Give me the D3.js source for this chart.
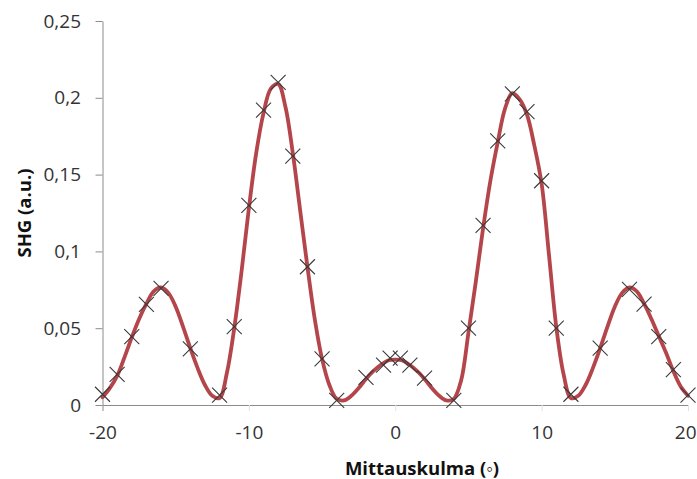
<!DOCTYPE html>
<html>
<head>
<meta charset="utf-8">
<script src="https://cdn.jsdelivr.net/npm/d3@7"></script>
<style>
  html, body { margin: 0; padding: 0; background: #fff; }
  svg { display: block; }
</style>
</head>
<body>
<script>
// Measured points (X markers)
const angles = [-20,-19,-18,-17,-16,-14,-12,-11,-10,-9,-8,-7,-6,-5,-4,-2,-0.8,-0.35,0.35,1,2,4,5,6,7,8,9,10,11,12,14,16,17,18,19,20];
const shg    = [0.007,0.020,0.0445,0.0655,0.076,0.0365,0.0065,0.051,0.130,0.192,0.210,0.162,0.090,0.030,0.003,0.018,0.026,0.0305,0.0305,0.026,0.0175,0.003,0.050,0.117,0.172,0.2025,0.191,0.146,0.050,0.007,0.037,0.0753,0.0657,0.0445,0.023,0.0065];

// Fitted curve
const fitAngle = [-20,-19.5,-19,-18.5,-18,-17.5,-17,-16.5,-16,-15.5,-15,-14.5,-14,-13.5,-13,-12.5,-12,-11.5,-11,-10.5,-10,-9.5,-9,-8.5,-8,-7.5,-7,-6.5,-6,-5.5,-5,-4.5,-4,-3.5,-3,-2.5,-2,-1.5,-1,-0.5,0,0.5,1,1.5,2,2.5,3,3.5,4,4.5,5,5.5,6,6.5,7,7.5,8,8.5,9,9.5,10,10.5,11,11.5,12,12.5,13,13.5,14,14.5,15,15.5,16,16.5,17,17.5,18,18.5,19,19.5,20];
const fitShg   = [0.005,0.011,0.019,0.031,0.044,0.056,0.066,0.074,0.0765,0.073,0.064,0.051,0.037,0.024,0.013,0.006,0.0045,0.021,0.050,0.087,0.128,0.164,0.190,0.206,0.209,0.194,0.164,0.127,0.090,0.056,0.030,0.013,0.004,0.003,0.006,0.011,0.017,0.022,0.026,0.029,0.0295,0.029,0.026,0.022,0.017,0.011,0.006,0.003,0.004,0.016,0.047,0.080,0.115,0.146,0.171,0.193,0.203,0.199,0.189,0.169,0.144,0.098,0.051,0.020,0.0045,0.006,0.013,0.024,0.037,0.051,0.064,0.073,0.0765,0.074,0.066,0.056,0.045,0.034,0.022,0.012,0.006];

const xTicks = [-20,-10,0,10,20];
const yTicks = [0,0.05,0.1,0.15,0.2,0.25];

const W = 697, H = 479;
const svg = d3.select("body").append("svg").attr("width", W).attr("height", H);
svg.append("rect").attr("width", W).attr("height", H).attr("fill", "#fff");

const x = d3.scaleLinear().domain([-20, 20]).range([102.5, 688]);
const y = d3.scaleLinear().domain([0, 0.25]).range([405, 21]);

const fmt = d => String(+d.toFixed(2)).replace(".", ",");
const tickFont = "'Open Sans', sans-serif";

// Y axis
const gy = svg.append("g").attr("transform", `translate(${x(-20)},0)`)
  .call(d3.axisLeft(y).tickValues(yTicks).tickFormat(fmt).tickSize(7).tickPadding(14.5).tickSizeOuter(0));
gy.select(".domain").attr("stroke", "#8c8c8c");
gy.selectAll(".tick line").attr("stroke", "#8c8c8c");
gy.selectAll(".tick text").attr("fill", "#333").style("font-family", tickFont).style("font-size", "19px");

// X axis
const gx = svg.append("g").attr("transform", `translate(0,${y(0)})`)
  .call(d3.axisBottom(x).tickValues(xTicks).tickFormat(d => String(d)).tickSize(6).tickPadding(14.5).tickSizeOuter(0));
gx.select(".domain").attr("stroke", "#8c8c8c");
gx.selectAll(".tick line").attr("stroke", (d) => d === -20 ? "#8c8c8c" : "#e2e2e2");
gx.selectAll(".tick text").attr("fill", "#333").style("font-family", tickFont).style("font-size", "19px");
// keep the last label inside the window edge
gx.selectAll(".tick text").filter(d => d === 20).attr("text-anchor", "end").attr("x", W - 1 - x(20));

// Curve
const fit = fitAngle.map((a, i) => [a, fitShg[i]]);
svg.append("path").datum(fit)
  .attr("fill", "none").attr("stroke", "#b4464b").attr("stroke-width", 3.8)
  .attr("stroke-linejoin", "round").attr("stroke-linecap", "round")
  .attr("d", d3.line().x(d => x(d[0])).y(d => y(d[1])).curve(d3.curveCatmullRom.alpha(0.5)));

// Markers
const s = 7.5;
svg.append("g").selectAll("path").data(angles.map((a, i) => [a, shg[i]])).join("path")
  .attr("d", d => {
    const cx = x(d[0]), cy = y(d[1]);
    return `M${cx - s},${cy - s}L${cx + s},${cy + s}M${cx - s},${cy + s}L${cx + s},${cy - s}`;
  })
  .attr("stroke", "#3a3a3a").attr("stroke-width", 1.1).attr("fill", "none");

// Titles
svg.append("text").attr("transform", "translate(31,213) rotate(-90)")
  .attr("text-anchor", "middle").attr("fill", "#111")
  .style("font-family", tickFont).style("font-weight", "bold").style("font-size", "18.5px")
  .text("SHG (a.u.)");

svg.append("text").attr("x", 422).attr("y", 475)
  .attr("text-anchor", "middle").attr("fill", "#111")
  .style("font-family", tickFont).style("font-weight", "bold").style("font-size", "18.5px")
  .text("Mittauskulma (◦)");
</script>
</body>
</html>
